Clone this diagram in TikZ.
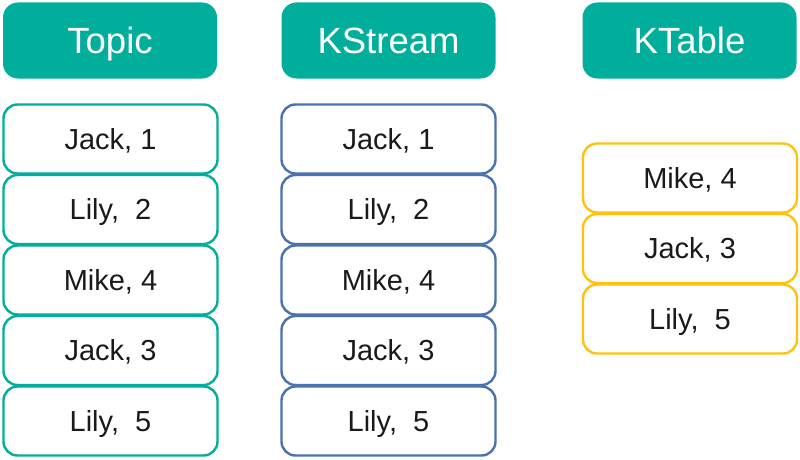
\documentclass[tikz,border=0pt]{standalone}
\usepackage{fontspec}
\setmainfont{Liberation Sans}
\definecolor{teal1}{HTML}{00AE9B}
\definecolor{blue1}{HTML}{4A72AE}
\definecolor{yel1}{HTML}{FFC20E}
\definecolor{txt}{HTML}{1A1A1A}
\begin{document}
\begin{tikzpicture}[x=1pt,y=-1pt,
  hdr/.style={fill=teal1,draw=none,rounded corners=15pt,minimum width=214pt,minimum height=76pt,
    text=white,font=\fontsize{36.5}{40}\selectfont,inner sep=0pt,text height=26.1pt,text depth=0pt},
  cell/.style={fill=white,line width=2.4pt,rounded corners=14pt,minimum width=214pt,minimum height=69pt,
    text=txt,font=\fontsize{29}{32}\selectfont,inner sep=0pt,text height=20.8pt,text depth=0pt},
  tcell/.style={cell,draw=teal1},
  bcell/.style={cell,draw=blue1},
  ycell/.style={cell,draw=yel1}]
\useasboundingbox (0,0) rectangle (800,460);
\node[hdr] (h1) at (110,40.5) {Topic};
\node[hdr] (h2) at (388.5,40.5) {KStream};
\node[hdr] (h3) at (689.5,40.5) {KTable};
\foreach \t [count=\i] in {{Jack, 1},{Lily,\ \ 2},{Mike, 4},{Jack, 3},{Lily,\ \ 5}}{
  \node[tcell] (t\i) at (110.5,{139+70.5*(\i-1)}) {\t};
  \node[bcell] (s\i) at (388.5,{139+70.5*(\i-1)}) {\t};
}
\foreach \t [count=\i] in {{Mike, 4},{Jack, 3},{Lily,\ \ 5}}{
  \node[ycell] (k\i) at (690,{178+70.5*(\i-1)}) {\t};
}
\end{tikzpicture}
\end{document}
